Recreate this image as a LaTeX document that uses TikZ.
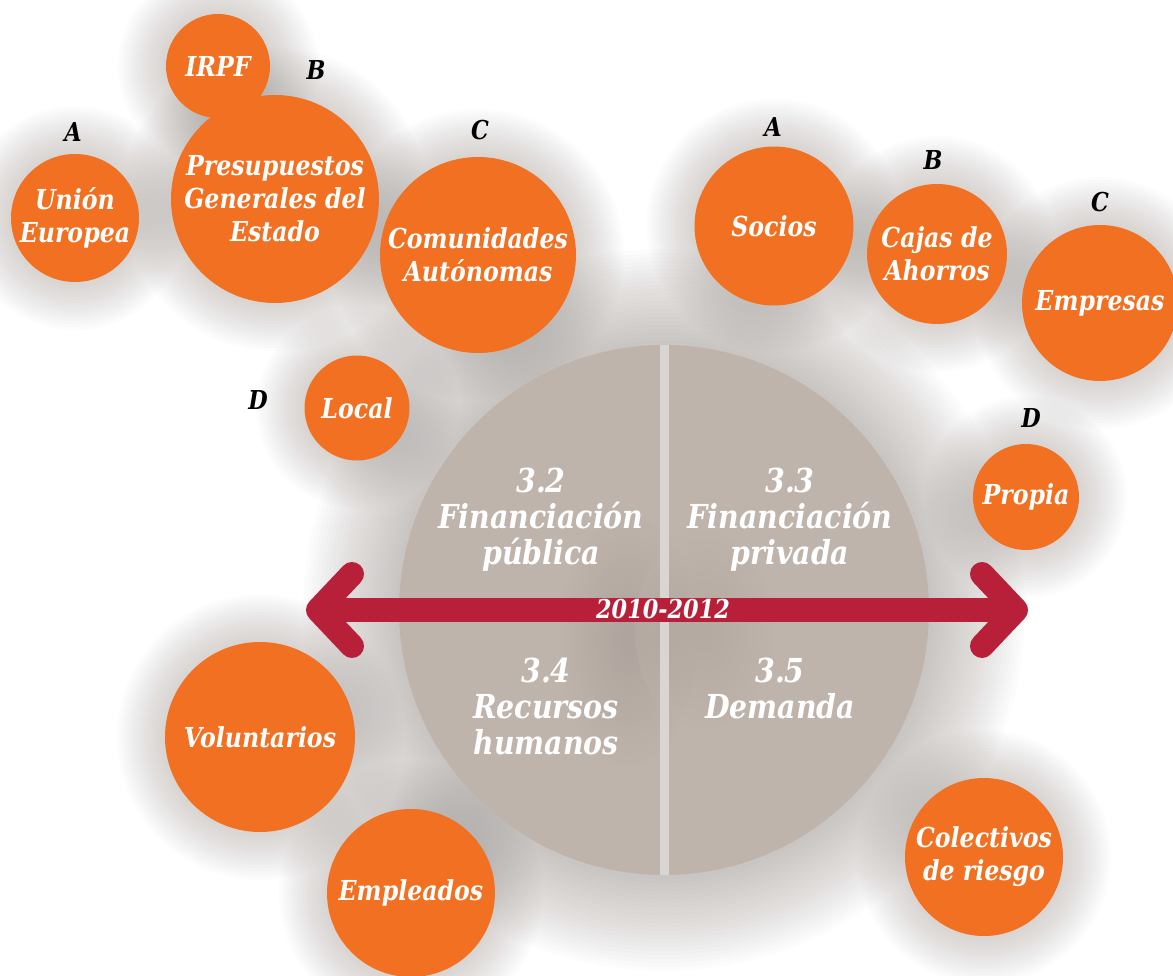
\documentclass[tikz,border=0pt]{standalone}
\usepackage{fontspec}
\newfontfamily\lblfont{DejaVu Serif}[FakeStretch=0.86]
\usetikzlibrary{calc}
\pgfdeclarelayer{bgzero}
\pgfdeclarelayer{background}
\pgfsetlayers{bgzero,background,main}
\definecolor{orng}{RGB}{241,112,34}
\definecolor{hubgray}{RGB}{191,180,171}
\definecolor{hubdark}{RGB}{160,151,146}
\definecolor{gapgray}{RGB}{216,213,211}
\definecolor{arrred}{RGB}{183,32,56}
\definecolor{shadowcol}{RGB}{110,98,92}
\tikzset{
  bub/.style={circle, fill=orng, text=white, inner sep=0pt, align=center,
    font=\lblfont\bfseries\itshape\fontsize{27.5}{33}\selectfont},
  letter/.style={text=black, inner sep=0pt, font=\lblfont\bfseries\itshape\fontsize{26}{28}\selectfont},
  hubtext/.style={text=white, inner sep=0pt, align=center, font=\lblfont\bfseries\itshape\fontsize{33}{36}\selectfont},
  arrline/.style={draw=arrred, line width=24pt, line cap=round, line join=round},
}
\begin{document}
\begin{tikzpicture}[x=1pt,y=-1pt]
\useasboundingbox (0,0) rectangle (1173,976);
\clip (0,0) rectangle (1173,976);
\begin{pgfonlayer}{bgzero}
\fill[white] (0,0) rectangle (1173,976);
\end{pgfonlayer}

% central circle
\node[circle, fill=hubgray, minimum size=530pt, inner sep=0pt] (hub) at (664,610) {};
\begin{scope}
  \clip (664,610) circle (265pt);
  \shade[inner color=hubdark, outer color=hubgray, opacity=0.55] (628,640) ellipse (70pt and 130pt);
  \shade[inner color=hubdark, outer color=hubgray, opacity=0.35] (705,630) ellipse (70pt and 100pt);
  \fill[gapgray] (659.5,330) rectangle (668.5,890);
\end{scope}

% central texts
\node[hubtext] (t32) at (541,520) {3.2\\Financiación\\pública};
\node[hubtext] (t33) at (790,520) {3.3\\Financiación\\privada};
\node[hubtext] (t34) at (546,706) {3.4\\Recursos\\humanos};
\node[hubtext] (t35) at (780,688) {3.5\\Demanda};

% bubbles - public
\node[bub, minimum size=128pt] (ue) at (75,218) {Unión\\Europea};
\node[bub, minimum size=104pt] (irpf) at (218,66) {IRPF};
\node[bub, minimum size=208pt] (pge) at (275,199) {\raisebox{-4pt}{\parbox{0pt}{}}Presupuestos\\Generales del\\Estado};
\node[bub, minimum size=196pt] (ca) at (478,255) {Comunidades\\Autónomas};
\node[bub, minimum size=105pt] (loc) at (357,408) {Local};
% bubbles - private
\node[bub, minimum size=159pt] (soc) at (774,226) {Socios};
\node[bub, minimum size=140pt] (caj) at (937,254) {Cajas de\\Ahorros};
\node[bub, minimum size=156pt] (emp) at (1100,303) {Empresas};
\node[bub, minimum size=106pt] (prop) at (1026,497) {Propia};
% bubbles - bottom
\node[bub, minimum size=190pt] (vol) at (260,737) {Voluntarios};
\node[bub, minimum size=168pt] (empl) at (411,893) {Empleados};
\node[bub, minimum size=158pt] (col) at (984,857) {Colectivos\\de riesgo};

% shadows
\begin{pgfonlayer}{background}
\foreach \k in {1,...,24} {
  \fill[shadowcol, opacity=0.014] (hub.center) circle[radius={265pt+\k*4pt}];
}
\foreach \n/\r in {ue/64,irpf/52,pge/104,ca/98,loc/52.5,soc/79.5,caj/70,emp/78,prop/53,vol/95,empl/84,col/79} {
  \foreach \k in {1,...,16} {
    \fill[shadowcol, opacity=0.016] (\n.center) circle[radius={\r pt+\k*3pt}];
  }
}
\end{pgfonlayer}

% letters
\node[letter] (la1) at (73,132) {A};
\node[letter] (lb1) at (316,70) {B};
\node[letter] (lc1) at (480,130) {C};
\node[letter] (ld1) at (258,400) {D};
\node[letter] (la2) at (773,127) {A};
\node[letter] (lb2) at (933,160) {B};
\node[letter] (lc2) at (1100,202) {C};
\node[letter] (ld2) at (1031,418) {D};

% arrow
\coordinate (al) at (318,610);
\coordinate (ar) at (1016,610);
\draw[arrline, line cap=butt] ($(al)+(10,0)$) -- ($(ar)+(-10,0)$);
\draw[arrline] ($(al)+(34,-36)$) -- (al) -- ($(al)+(34,36)$);
\draw[arrline] ($(ar)+(-34,-36)$) -- (ar) -- ($(ar)+(-34,36)$);
\node[text=white, inner sep=0pt, font=\lblfont\bfseries\itshape\fontsize{26}{28}\selectfont] (yr) at (663,609) {2010-2012};
\end{tikzpicture}
\end{document}
